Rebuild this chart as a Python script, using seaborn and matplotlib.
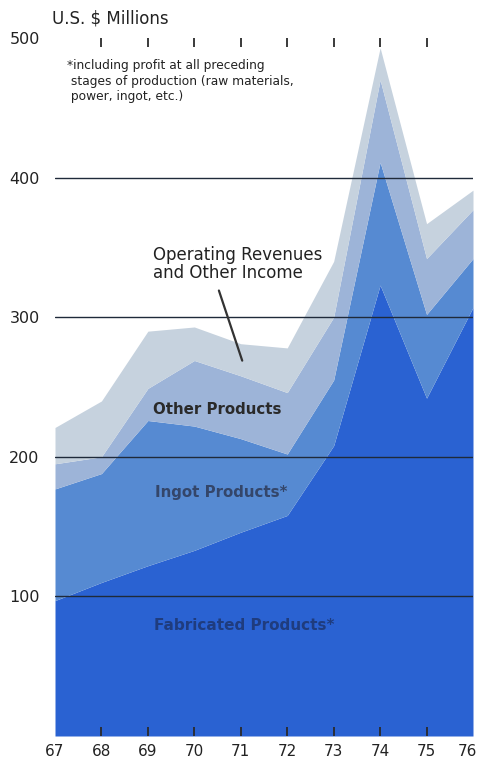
import matplotlib
matplotlib.use("Agg")
import matplotlib.pyplot as plt
import matplotlib.transforms as mtransforms
import seaborn as sns

# data (US$ millions, stacked)
years = [67, 68, 69, 70, 71, 72, 73, 74, 75, 76]
fabricated = [97, 110, 122, 133, 146, 158, 208, 323, 242, 307]
ingot = [80, 78, 104, 89, 67, 44, 47, 88, 60, 35]
other = [18, 12, 23, 47, 45, 44, 45, 59, 40, 35]
operating = [26, 40, 41, 24, 23, 32, 40, 23, 25, 14]

y_ticks = [100, 200, 300, 400, 500]
x_labels = ["67", "68", "69", "70", "71", "72", "73", "74", "75", "76"]

colors = ["#2a62d2", "#568ad2", "#9db4d8", "#c6d2de"]

sns.set_theme(style="white")
plt.rcParams["font.family"] = ["DejaVu Sans"]

W, H = 478, 764
fig = plt.figure(figsize=(W / 100, H / 100), dpi=100)
ax = fig.add_axes([55 / W, 1 - 736 / H, (473 - 55) / W, (736 - 38) / H])
ax.set_axisbelow(False)  # tick marks sit on top of the fills


def fpos(px, py):
    return px / W, 1 - py / H


ax.stackplot(years, fabricated, ingot, other, operating,
             colors=colors, linewidth=0, zorder=1)

for v in y_ticks[:-1]:
    ax.axhline(v, color="#1f2a3a", lw=1.0, zorder=3)

ax.set_xlim(years[0], years[-1])
ax.set_ylim(0, 500)
for s in ax.spines.values():
    s.set_visible(False)

ax.set_xticks(years)
ax.set_xticklabels(x_labels, fontsize=11, color="#222222")
ax.set_yticks(y_ticks)
ax.set_yticklabels([str(v) for v in y_ticks], fontsize=11.5, color="#222222")
ax.tick_params(axis="y", length=0, pad=11)
ax.tick_params(axis="x", which="major", direction="in", length=6.5, width=1.3,
               color="#2a2a2a", top=True, bottom=True, pad=6)

# no tick marks at the two ends, as in the original
for t in (ax.xaxis.get_major_ticks()[0], ax.xaxis.get_major_ticks()[-1]):
    t.tick1line.set_visible(False)
    t.tick2line.set_visible(False)
# nudge the last year label so it stays inside the picture
last = ax.get_xticklabels()[-1]
last.set_transform(last.get_transform() +
                   mtransforms.ScaledTranslation(-6 / 100, 0, fig.dpi_scale_trans))

fig.text(*fpos(52, 19), "U.S. $ Millions", fontsize=12, color="#222222",
         va="center", ha="left")
fig.text(*fpos(67, 59), "*including profit at all preceding\n"
         " stages of production (raw materials,\n"
         " power, ingot, etc.)", fontsize=8.8, color="#222222",
         va="top", ha="left", linespacing=1.25)

fig.text(*fpos(153, 264), "Operating Revenues\nand Other Income", fontsize=12,
         color="#222222", va="center", ha="left", linespacing=0.95)
ax.annotate("", xy=(71.05, 267), xytext=(70.51, 321),
            arrowprops=dict(arrowstyle="-", color="#333333", lw=1.6), zorder=4)

fig.text(*fpos(153, 410), "Other Products", fontsize=10.8, fontweight="bold",
         color="#2a2a2a", va="center", ha="left")
fig.text(*fpos(155, 493), "Ingot Products*", fontsize=10.8, fontweight="bold",
         color="#34466a", va="center", ha="left")
fig.text(*fpos(154, 626), "Fabricated Products*", fontsize=11, fontweight="bold",
         color="#1f3c7e", va="center", ha="left")

fig.savefig("out.png", dpi=100)
